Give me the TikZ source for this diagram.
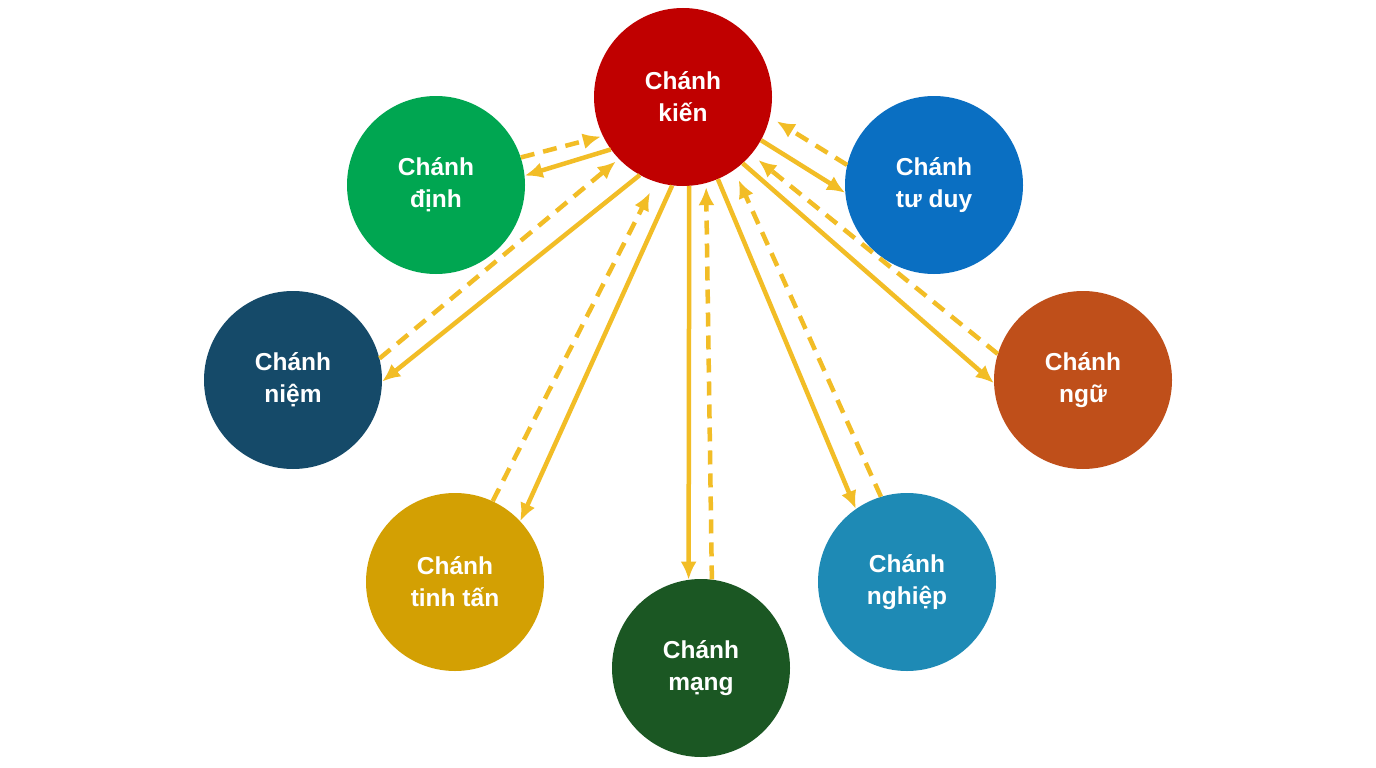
\documentclass[tikz,border=0pt]{standalone}
\usepackage{fontspec}
\setmainfont{Liberation Sans}
\usetikzlibrary{arrows.meta}
\definecolor{arr}{HTML}{F2BD26}
\definecolor{ckien}{HTML}{C00000}
\definecolor{cdinh}{HTML}{00A651}
\definecolor{ctuduy}{HTML}{0A6FC2}
\definecolor{cniem}{HTML}{154A69}
\definecolor{cngu}{HTML}{BF4F1A}
\definecolor{ctinhtan}{HTML}{D3A003}
\definecolor{cmang}{HTML}{1B5723}
\definecolor{cnghiep}{HTML}{1E8AB5}
\begin{document}
\begin{tikzpicture}[x=1pt,y=-1pt,
  circ/.style={circle, minimum size=178pt, inner sep=0pt, text=white,
    font=\fontsize{24.5}{32}\selectfont\bfseries, align=center},
  solidarr/.style={draw=arr, line width=4.5pt, -{Latex[length=18pt,width=16pt]}},
  dasharr/.style={draw=arr, line width=4.5pt, dash pattern=on 14pt off 9pt,
    -{Latex[length=18pt,width=16pt]}}]
\useasboundingbox (0,0) rectangle (1376,768);
\fill[white] (0,0) rectangle (1376,768);

\node[circ, fill=ckien]    (K) at (683,97)  {Chánh\\kiến};
\node[circ, fill=cdinh]    (D) at (436,185) {Chánh\\định};
\node[circ, fill=ctuduy]   (T) at (934,185) {Chánh\\tư duy};
\node[circ, fill=cniem]    (N) at (293,380) {Chánh\\niệm};
\node[circ, fill=cngu]     (R) at (1083,380) {Chánh\\ngữ};
\node[circ, fill=ctinhtan] (S) at (455,582) {Chánh\\tinh tấn};
\node[circ, fill=cmang]    (M) at (701,668) {Chánh\\mạng};
\node[circ, fill=cnghiep]  (G) at (907,582) {Chánh\\nghiệp};

\draw[solidarr] (K.216.7) -- (D.6.2);
\draw[dasharr, shorten >=2pt] (D.18.4) -- (K.206.6);
\draw[solidarr] (K.-29.4) -- (T.185.5);
\draw[dasharr, shorten >=8pt] (T.167.1) -- (K.-13.6);
\draw[solidarr] (K.241.1) -- (N.-1);
\draw[dasharr, shorten >=4pt] (N.14.8) -- (K.224.6);
\draw[solidarr] (K.263.8) -- (S.43.7);
\draw[dasharr, shorten >=12pt] (S.65.2) -- (K.252);
\draw[solidarr] (K.-86.8) -- (M.98.4);
\draw[dasharr, shorten >=4pt] (M.83) -- (K.-75.1);
\draw[solidarr] (K.-67) -- (G.125);
\draw[dasharr, shorten >=11pt] (G.107.6) -- (K.-55.9);
\draw[solidarr] (K.-48.6) -- (R.-178.7);
\draw[dasharr, shorten >=9pt] (R.163.5) -- (K.-40);
\end{tikzpicture}
\end{document}
